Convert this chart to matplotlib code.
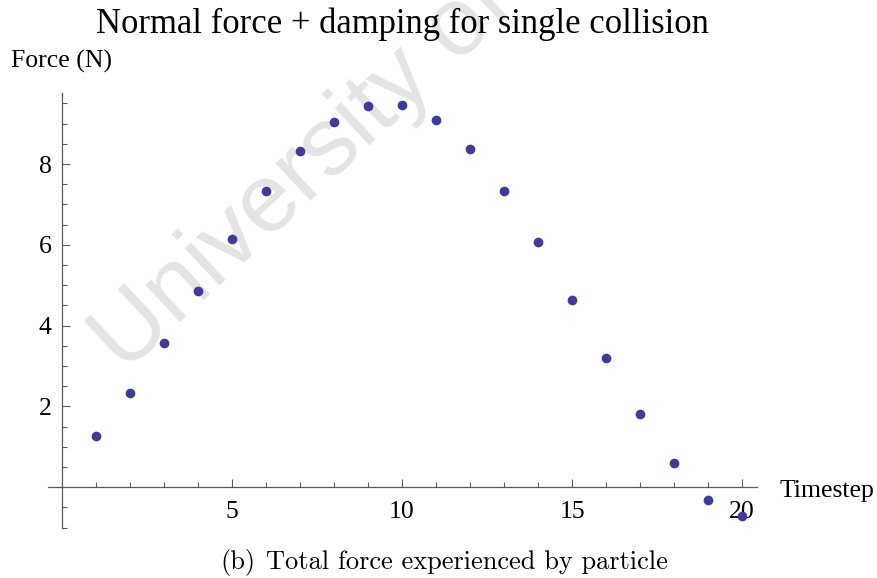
import matplotlib
matplotlib.use("Agg")
import matplotlib.pyplot as plt
from matplotlib.ticker import FixedLocator

# ---- data ----
timestep = list(range(1, 21))
force = [1.27, 2.34, 3.56, 4.86, 6.15, 7.33, 8.32, 9.05, 9.44, 9.46,
         9.09, 8.37, 7.33, 6.06, 4.64, 3.19, 1.81, 0.59, -0.31, -0.71]
x_major = [5, 10, 15, 20]
y_major = [2, 4, 6, 8]
title = "Normal force + damping for single collision"
ylabel = "Force (N)"
xlabel = "Timestep"
caption_tag = "(b)"
caption = "Total force experienced by particle"
watermark = "University of Cape Town"

W, H = 878, 578
fig = plt.figure(figsize=(W / 100, H / 100), dpi=100)
serif = "Liberation Serif"

ax = fig.add_axes([48 / W, 50 / H, 709 / W, 435.5 / H])
ax.set_xlim(-0.41, 20.44)
ax.set_ylim(-1.01, 9.77)
ax.patch.set_visible(False)

axis_col = "#5a5a5a"
for s in ("top", "right"):
    ax.spines[s].set_visible(False)
for s in ("left", "bottom"):
    ax.spines[s].set_position(("data", 0))
    ax.spines[s].set_color(axis_col)
    ax.spines[s].set_linewidth(0.9)

ax.xaxis.set_major_locator(FixedLocator(x_major))
ax.xaxis.set_minor_locator(FixedLocator([v for v in range(1, 21) if v not in x_major]))
ax.yaxis.set_major_locator(FixedLocator(y_major))
ax.yaxis.set_minor_locator(FixedLocator([v / 2 for v in range(-2, 20) if v / 2 not in y_major and v != 0]))
ax.set_xticklabels([str(v) for v in x_major])
ax.set_yticklabels([str(v) for v in y_major])

ax.tick_params(axis="both", which="major", direction="in", length=5.8, width=0.8,
               color=axis_col, labelsize=18.5)
ax.tick_params(axis="both", which="minor", direction="in", length=3.5, width=0.8,
               color=axis_col)
ax.tick_params(axis="x", which="major", pad=10)
ax.tick_params(axis="y", which="major", pad=7.5)
for lab in ax.get_xticklabels() + ax.get_yticklabels():
    lab.set_fontfamily(serif)

# watermark behind the data
ax.text(124 / W, (H - 374) / H, watermark, transform=fig.transFigure,
        rotation=43, rotation_mode="anchor", ha="left", va="baseline",
        fontsize=70, family="Liberation Sans", color="#e4e4e4",
        zorder=0, clip_on=False)

ax.plot(timestep, force, linestyle="none", marker="o", markersize=7.0,
        markeredgewidth=0, color="#3d3d99", zorder=3, clip_on=False)

fig.text(402.5 / W, (H - 33) / H, title, ha="center", va="baseline",
         fontsize=24.9, family=serif)
fig.text(11 / W, (H - 68) / H, ylabel, ha="left", va="baseline",
         fontsize=18.5, family=serif)
fig.text(780 / W, (H - 497) / H, xlabel, ha="left", va="baseline",
         fontsize=18.5, family=serif)
fig.text(220 / W, (H - 569) / H, caption_tag, ha="left", va="baseline",
         fontsize=19, family="cmr10")
fig.text(266 / W, (H - 569) / H, caption, ha="left", va="baseline",
         fontsize=19, family="cmr10")

fig.savefig("out.png", dpi=100)
